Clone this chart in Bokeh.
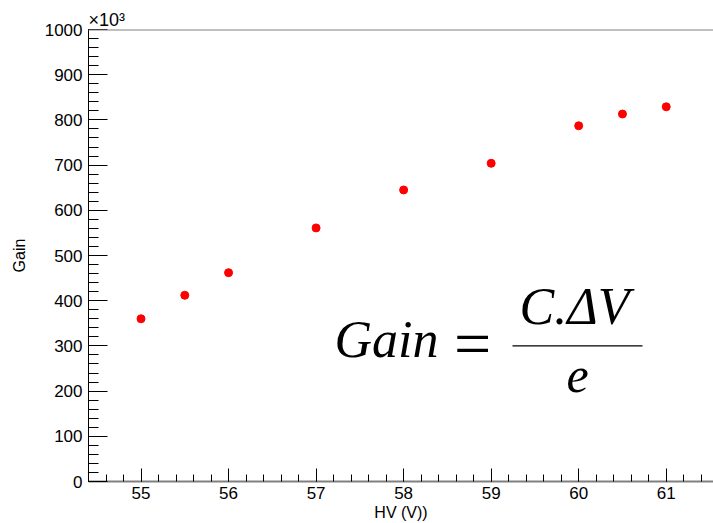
from bokeh.plotting import figure
from bokeh.models import (Range1d, SingleIntervalTicker, Label, Span)
from bokeh.embed import file_html
from bokeh.resources import INLINE

# ---- data ----
hv_volts = [55.0, 55.5, 56.0, 57.0, 58.0, 59.0, 60.0, 60.5, 61.0]
gain_x1e3 = [360, 412, 462, 561, 645, 704, 787, 813, 829]

x_title = "HV (V))"
y_title = "Gain"
exp_title = "×10³"

# ---- layout ----
W, H = 713, 523
LEFT, TOP, BOTTOM_BORDER = 88, 29, 41
X0, X1 = 54.4, 61.54
Y0, Y1 = 0, 1000

p = figure(width=W, height=H, output_backend="svg", toolbar_location=None,
           x_range=Range1d(X0, X1), y_range=Range1d(Y0, Y1),
           min_border_left=LEFT, min_border_right=0,
           min_border_top=TOP, min_border_bottom=BOTTOM_BORDER)
p.outline_line_color = None
p.xgrid.visible = False
p.ygrid.visible = False
p.background_fill_color = "white"
p.border_fill_color = "white"

FONT = "Liberation Sans"

p.title.text = exp_title
p.title.align = "left"
p.title.text_font = FONT
p.title.text_font_size = "18px"
p.title.text_font_style = "normal"
p.title.text_color = "black"
p.title.offset = 0
p.title.standoff = 0

xa = p.xaxis[0]
xa.ticker = SingleIntervalTicker(interval=1, num_minor_ticks=5)
xa.axis_line_color = "#808080"
xa.axis_line_width = 2
xa.major_tick_in = 13
xa.major_tick_out = 0
xa.minor_tick_in = 7
xa.minor_tick_out = 0
xa.major_tick_line_color = "black"
xa.minor_tick_line_color = "black"
xa.major_label_text_font = FONT
xa.major_label_text_font_size = "17px"
xa.major_label_text_color = "black"
xa.major_label_standoff = 5
xa.axis_label = x_title
xa.axis_label_text_font = FONT
xa.axis_label_text_font_style = "normal"
xa.axis_label_text_font_size = "16px"
xa.axis_label_text_color = "black"
xa.axis_label_standoff = 2

ya = p.yaxis[0]
ya.ticker = SingleIntervalTicker(interval=100, num_minor_ticks=5)
ya.axis_line_color = "black"
ya.axis_line_width = 1
ya.major_tick_in = 19
ya.major_tick_out = 0
ya.minor_tick_in = 10
ya.minor_tick_out = 0
ya.major_tick_line_color = "black"
ya.minor_tick_line_color = "black"
ya.major_label_text_font = FONT
ya.major_label_text_font_size = "17px"
ya.major_label_text_color = "black"
ya.major_label_standoff = 6
ya.axis_label = y_title
ya.axis_label_text_font = FONT
ya.axis_label_text_font_style = "normal"
ya.axis_label_text_font_size = "16px"
ya.axis_label_text_color = "black"
ya.axis_label_standoff = 14

# top frame line
p.add_layout(Span(location=Y1, dimension="width", line_color="#808080", line_width=2))

# data points
p.scatter(hv_volts, gain_x1e3, size=8, color="red", line_color="red")

# formula: Gain = C.ΔV / e  (placed in screen pixels converted to data)
XS = (W - LEFT) / (X1 - X0)
YS = (H - BOTTOM_BORDER - TOP) / (Y1 - Y0)
def fx(px):
    return X0 + (px - LEFT) / XS
def fy(py):
    return (H - BOTTOM_BORDER - py) / YS

SERIF = "Liberation Serif"
p.add_layout(Label(x=fx(334), y=fy(340), text="Gain", text_font=SERIF,
                   text_font_style="italic", text_font_size="52px", text_color="black",
                   text_align="left", text_baseline="alphabetic"))
p.add_layout(Label(x=fx(472), y=fy(344), text="=", text_font=SERIF,
                   text_font_size="66px", text_color="black",
                   text_align="center", text_baseline="middle"))
p.add_layout(Label(x=fx(574), y=fy(307), text="C.ΔV", text_font=SERIF,
                   text_font_style="italic", text_font_size="52px", text_color="black",
                   text_align="center", text_baseline="alphabetic"))
p.add_layout(Label(x=fx(577), y=fy(376), text="e", text_font=SERIF,
                   text_font_style="italic", text_font_size="50px", text_color="black",
                   text_align="center", text_baseline="alphabetic"))
p.line([fx(512), fx(642)], [fy(346), fy(346)], line_color="black", line_width=1.3)

open("out.html", "w").write(file_html(p, INLINE))
